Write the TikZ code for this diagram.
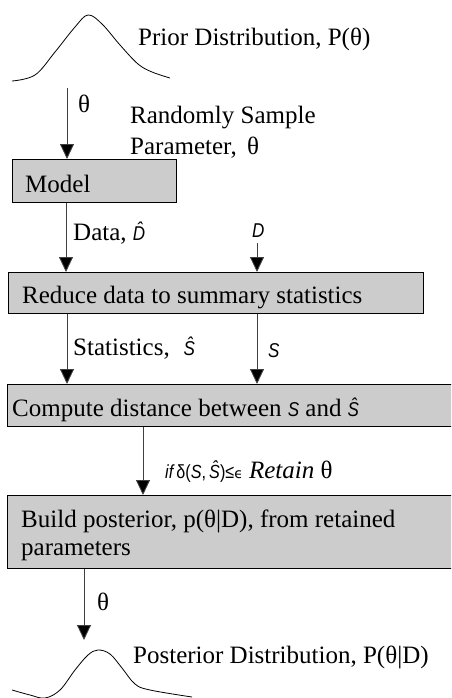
\documentclass[tikz,border=0pt]{standalone}
\usepackage{fontspec}
\setmainfont{Liberation Serif}
\newfontfamily\symf{Liberation Sans}[FakeStretch=0.85]
\newfontfamily\dejavu{DejaVu Sans}
\usetikzlibrary{arrows.meta}
\newcommand\hatit[1]{{\symf\itshape\accent"02C6 #1}}
\tikzset{
  box/.style={draw=black, line width=0.9pt, fill=black!20, anchor=north west, inner sep=0pt},
  txt/.style={inner sep=0pt, anchor=base west, font=\fontsize{25}{29}\selectfont},
  sym/.style={inner sep=0pt, anchor=base west, font=\fontsize{20}{23}\selectfont},
  conn/.style={draw=black!75, line width=0.9pt, -{Triangle[length=15pt,width=14pt,fill=black]}},
  curve/.style={draw=black, line width=0.8pt}
}
\begin{document}
\begin{tikzpicture}[x=1pt,y=-1pt]
\useasboundingbox (0,0) rectangle (451,698);
\clip (0,0) rectangle (451,698);
% prior curve
\draw[curve] plot[smooth, tension=0.6] coordinates {(12,81) (35,75) (55,52) (75,27) (88,15) (102,24) (120,45) (138,64) (152,72) (170,78)};
\node[txt] (priortxt) at (138,46) {Prior Distribution, P(θ)};
% boxes
\node[box, minimum width=164pt, minimum height=43pt] (model) at (12,159) {};
\node[txt] (modeltxt) at (25,192) {Model};
\node[box, minimum width=415pt, minimum height=41pt] (reduce) at (8,272) {};
\node[txt] (reducetxt) at (22,303) {Reduce data to summary statistics};
\node[box, minimum width=460pt, minimum height=42pt] (compute) at (7,384) {};
\node[txt] (computetxt) at (12,416) {Compute distance between {\symf\itshape\fontsize{20}{23}\selectfont S} and {\fontsize{20}{23}\selectfont\hatit{S}}};
\node[box, minimum width=460pt, minimum height=73pt] (build) at (7,495) {};
\node[txt] (buildtxt1) at (21,527) {Build posterior, p(θ|D), from retained};
\node[txt] (buildtxt2) at (21,555) {parameters};
% coordinates
\coordinate (p1) at (67,88);
\coordinate (d1) at (257,243);
\coordinate (post) at (84,640);
% connectors
\draw[conn] (p1) -- (p1 |- model.north);
\draw[conn] ([xshift=54pt]model.south west) -- ([xshift=54pt]model.south west |- reduce.north);
\draw[conn] (d1) -- (d1 |- reduce.north);
\draw[conn] ([xshift=59pt]reduce.south west) -- ([xshift=59pt]reduce.south west |- compute.north);
\draw[conn] ([xshift=249pt]reduce.south west) -- ([xshift=249pt]reduce.south west |- compute.north);
\draw[conn] ([xshift=136pt]compute.south west) -- ([xshift=136pt]compute.south west |- build.north);
\draw[conn] ([xshift=77pt]build.south west) -- (post);
% labels
\node[txt] (th1) at (78,113) {θ};
\node[txt] (rs1) at (130,124) {Randomly Sample};
\node[txt] (rs2) at (130,154) {Parameter,\, θ};
\node[txt] (data) at (73,240) {Data, {\fontsize{20}{23}\selectfont\hatit{D}}};
\node[sym] (dlab) at (252,237) {\symf\itshape D};
\node[txt] (stat) at (73,355) {Statistics,\hspace{14pt}{\fontsize{20}{23}\selectfont\hatit{S}}};
\node[sym] (slab) at (268,357) {\symf\itshape S};
\node[txt] (cond) at (165,478) {{\fontsize{19}{22}\selectfont{\symf\itshape if\,}{\symf δ(}{\symf\itshape S}{\symf ,\,}\hatit{S}{\symf )≤}{\dejavu\fontsize{14}{16}\selectfont ϵ}} \textit{Retain} θ};
\node[txt] (th2) at (97,610) {θ};
\node[txt] (posttxt) at (133,663) {Posterior Distribution, P(θ|D)};
% posterior curve
\draw[curve] plot[smooth, tension=0.6] coordinates {(12,690) (30,695) (45,698) (60,690) (75,670) (88,655) (98,650) (110,654) (122,668) (135,684) (150,690) (192,697)};
\end{tikzpicture}
\end{document}
